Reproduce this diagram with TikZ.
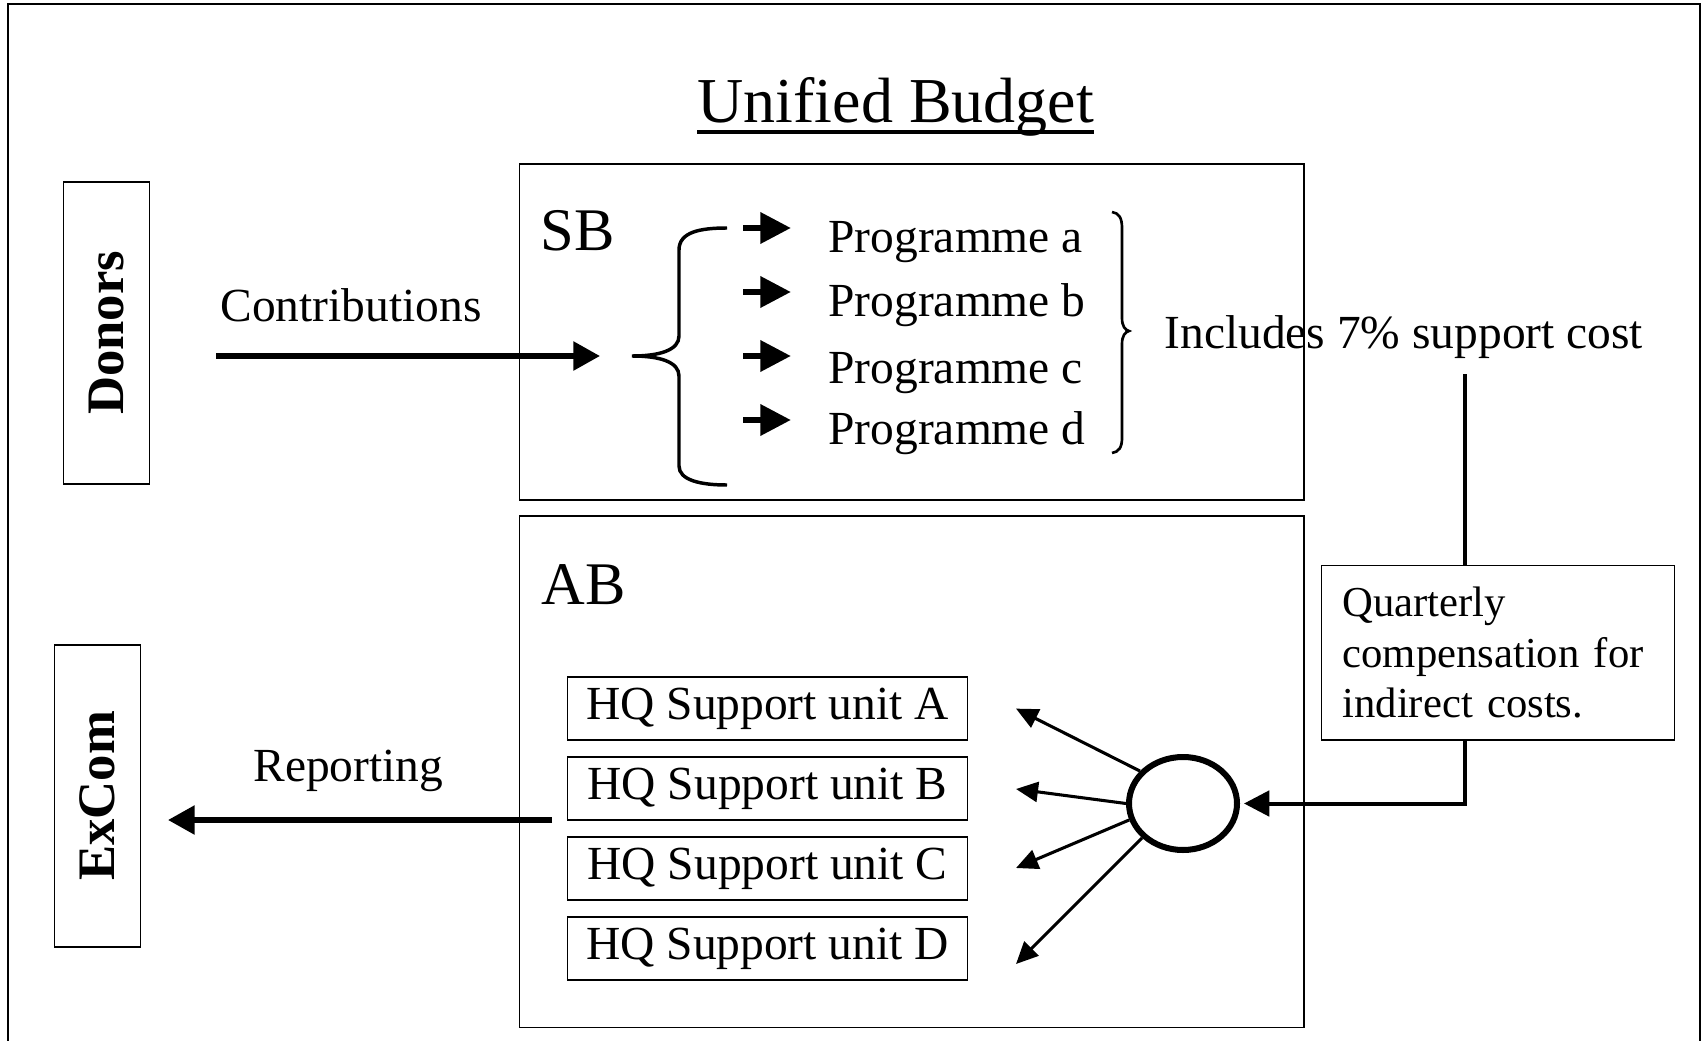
\documentclass[tikz,border=0pt]{standalone}
\usepackage{fontspec}
\setmainfont{Liberation Serif}
\usetikzlibrary{arrows.meta,calc,shapes.geometric}

\tikzset{every picture/.style={line width=0.75pt}}
\tikzset{
  thinbox/.style={draw, line width=1.1pt},
  txt/.style={inner sep=0pt, font=\fontsize{35.6}{42}\selectfont},
  bigtxt/.style={inner sep=0pt, font=\fontsize{45.4}{52}\selectfont},
  sidebox/.style={draw, line width=1.1pt, inner sep=0pt, minimum width=226.5pt, minimum height=64.5pt, rotate=90, font=\bfseries\fontsize{39.5}{44}\selectfont},
  hqbox/.style={draw, line width=1.1pt, inner sep=0pt, minimum width=299.8pt, minimum height=47.3pt, font=\fontsize{35.6}{42}\selectfont},
  bigarrow/.style={line width=4.2pt, -{Triangle[length=20pt,width=21pt]}},
  progarrow/.style={line width=5pt, -{Triangle[length=23pt,width=22.5pt]}},
  fanarrow/.style={line width=2.3pt, -{Triangle[length=16.5pt,width=15pt]}},
}

\begin{document}
\begin{tikzpicture}[x=0.75pt,y=0.75pt,yscale=-1,xscale=1]
\useasboundingbox (0,0) rectangle (1708,1041);

%Outer frame (open at the bottom)
\draw [line width=1.3pt] (8,1046) -- (8,4) -- (1700,4) -- (1700,1046) ;

% Text Node
\node [bigtxt, font=\fontsize{48}{56}\selectfont, anchor=base west] (title) at (697,123) {Unified Budget};
\draw [line width=2.6pt] ($(title.base west)+(0,9)$) -- ($(title.base east)+(0,9)$) ;

%Shape: Rect [SB]
\draw [thinbox] (519.5,164) rectangle (1304,500) ;
%Shape: Rect [AB]
\draw [thinbox] (519.5,516) rectangle (1304,1027.5) ;

% Text Node
\node [bigtxt, anchor=base west] (sb) at (540,251) {SB};
% Text Node
\node [bigtxt, anchor=base west] (ab) at (541,604.5) {AB};

%Side boxes
\node [sidebox] (donors) at (106.3,333) {Donors};
\node [sidebox] (excom) at (97.5,795.8) {ExCom};

% Text Node
\node [txt, anchor=base west] (contrib) at (220,321) {Contributions};
\coordinate (cin) at (216,356);
\coordinate (cout) at (600,356);
\draw [bigarrow] (cin) -- (cout) ;

%Shape: Brace
\draw [line width=2.6pt] (727,228) .. controls (700,228) and (679,232) .. (679,250) -- (679,336) .. controls (679,350) and (660,356) .. (632,356) .. controls (660,356) and (679,362) .. (679,376) -- (679,466) .. controls (679,480) and (700,485) .. (727,485) ;

%Programme arrows
\foreach \y in {228,292,356,420}
  \draw [progarrow] (743,\y) -- (791,\y) ;

% Text Node
\node [txt, anchor=base west] (proga) at (828,252.7) {Programme a};
\node [txt, anchor=base west] (progb) at (828,316) {Programme b};
\node [txt, anchor=base west] (progc) at (828,383.4) {Programme c};
\node [txt, anchor=base west] (progd) at (828,444.4) {Programme d};

%Shape: Brace
\draw [line width=2pt] (1112,212) .. controls (1119,213) and (1122,218) .. (1122,228) -- (1122,318) .. controls (1122,326) and (1125,330) .. (1129,331) .. controls (1125,332) and (1122,336) .. (1122,344) -- (1122,438) .. controls (1122,447) and (1119,452) .. (1112,453) ;

% Text Node
\node [txt, anchor=base west] (incl) at (1164,348.6) {Includes 7\% support cost};

%Quarterly box
\node [thinbox, anchor=north west, text width=233pt, inner xsep=16pt, inner ysep=0pt, minimum height=131pt, align=left, font=\fontsize{32}{37.9}\selectfont] (quart) at (1320.5,564.5) {Quarterly\\compensation for\\indirect costs.};

%Shape: Ellipse
\node [draw, ellipse, line width=4.5pt, inner sep=0pt, minimum width=81pt, minimum height=69.75pt] (hub) at (1183,803.5) {};

%Straight Lines
\coordinate (drop) at (1465,374);
\draw [line width=2.8pt] (drop) -- (drop |- quart.north) ;
\draw [line width=3pt, shorten >=3pt, -{Triangle[length=19pt,width=19pt]}] (drop |- quart.south) |- (hub.east) ;

%HQ units
\foreach \u/\y in {A/708.5,B/788.5,C/868.5,D/948.5}
  \node [hqbox] (hq\u) at (767.5,\y) {HQ Support unit \u};

%Fan of arrows
\coordinate (fa) at (1016,708.6);
\coordinate (fb) at (1016,789);
\coordinate (fc) at (1016,868);
\coordinate (fd) at (1016,964);
\foreach \a/\t in {143/fa,180/fb,197/fc,220/fd}
  \draw [fanarrow] (hub.\a) -- (\t) ;

% Text Node
\node [txt, anchor=base west] (report) at (253,781) {Reporting};
\coordinate (rstart) at (552,820);
\coordinate (rend) at (168,820);
\draw [bigarrow] (rstart) -- (rend) ;

\end{tikzpicture}
\end{document}
